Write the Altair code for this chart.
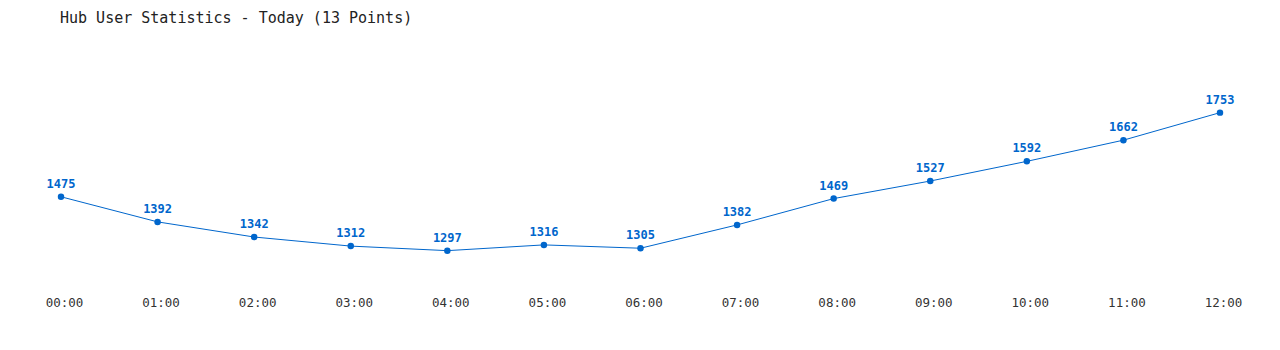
import altair as alt
import pandas as pd

hours = ["00:00", "01:00", "02:00", "03:00", "04:00", "05:00", "06:00",
         "07:00", "08:00", "09:00", "10:00", "11:00", "12:00"]
users = [1475, 1392, 1342, 1312, 1297, 1316, 1305, 1382, 1469, 1527, 1592, 1662, 1753]

df = pd.DataFrame({"hour": hours, "users": users})
color = "#0066cc"
font = "DejaVu Sans Mono"

x = alt.X("hour:O", sort=hours, title=None,
          scale=alt.Scale(type="point", padding=0),
          axis=alt.Axis(labelAngle=0, domain=False, ticks=False, grid=False,
                        labelPadding=16, labelFont=font, labelFontSize=12.5,
                        labelColor="#333333", labelOffset=3))
y = alt.Y("users:Q", title=None, scale=alt.Scale(domain=[1200, 1950], nice=False, zero=False),
          axis=None)

base = alt.Chart(df).encode(x=x, y=y)
line = base.mark_line(color=color, strokeWidth=1)
pts = base.mark_circle(color=color, size=42, opacity=1)
labels = base.mark_text(color=color, dy=-13, font=font, fontSize=12, fontWeight="bold").encode(
    text="users:Q")

chart = (line + pts + labels).properties(
    width=1159, height=227,
    background="white",
    title=alt.TitleParams("Hub User Statistics - Today (13 Points)", anchor="start",
                          frame="group",
                          font=font, fontSize=15, fontWeight="normal", color="#222222",
                          offset=27, dx=-1),
    padding={"left": 61, "top": 53, "right": 60, "bottom": 70},
    autosize=alt.AutoSizeParams(type="none"),
).configure_view(strokeWidth=0, stroke=None)

chart.save("out.html", embed_options={"renderer": "svg", "actions": False})
